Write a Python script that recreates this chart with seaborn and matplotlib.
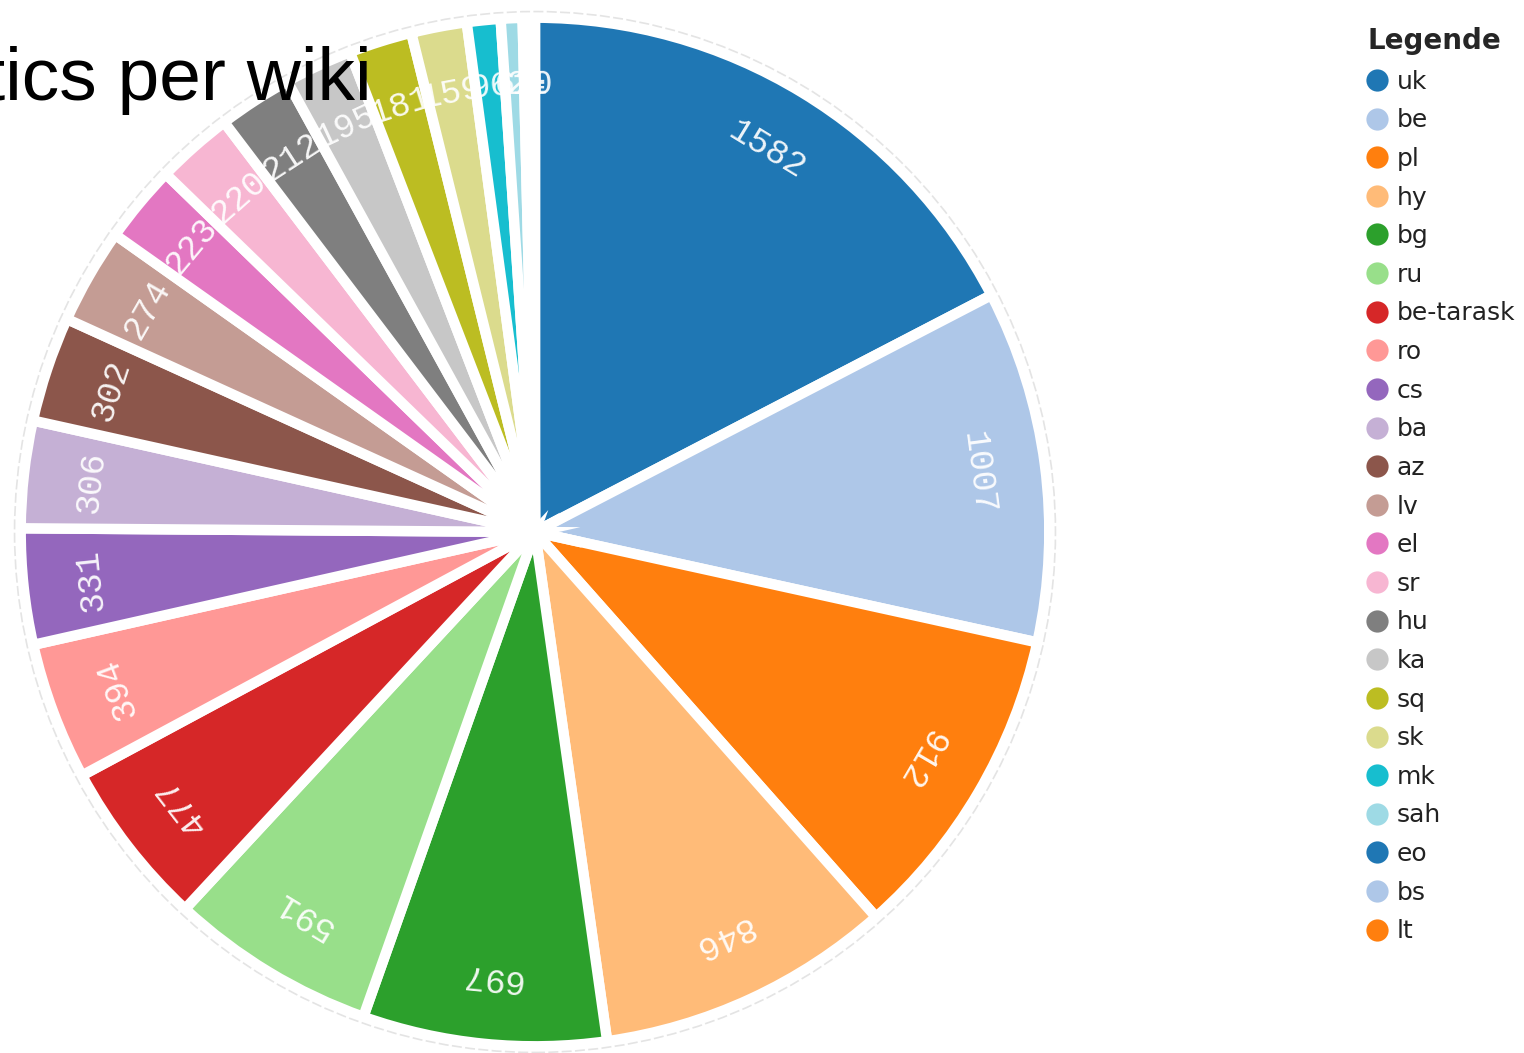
import matplotlib
matplotlib.use('Agg')
import matplotlib.pyplot as plt
from matplotlib.lines import Line2D
from matplotlib.patches import Circle
import numpy as np
import seaborn as sns

sns.set_style('white')
plt.rcParams['font.family'] = ['DejaVu Sans']

# 위키별 값 (그림에서 읽은 값, 작은 조각은 추정)
wikis = ['uk', 'be', 'pl', 'hy', 'bg', 'ru', 'be-tarask', 'ro', 'cs', 'ba',
         'az', 'lv', 'el', 'sr', 'hu', 'ka', 'sq', 'sk', 'mk', 'sah',
         'eo', 'bs', 'lt']
counts = [1582, 1007, 912, 846, 697, 591, 477, 394, 331, 306,
          302, 274, 223, 220, 212, 195, 181, 159, 96, 62,
          21, 10, 4]
title_text = 'Statistics per wiki'
legend_title = 'Legende'

colors = sns.color_palette('tab20', 20)
colors = [colors[i % 20] for i in range(len(wikis))]

W, H = 1524, 1053
fig = plt.figure(figsize=(W / 100, H / 100), dpi=100)

# 파이 영역 (중심 535, 532 px)
cx, cy, half = 535, 532, 522
lim = 1.015
ax = fig.add_axes([(cx - half) / W, (H - cy - half) / H, 2 * half / W, 2 * half / H])

wedges, _ = ax.pie(counts, colors=colors, startangle=90, counterclock=False,
                   radius=1.0,
                   wedgeprops=dict(edgecolor='white', linewidth=7.5))
ax.add_patch(Circle((0, 0), 1.012, fill=False, edgecolor='#e4e4e4',
                    linewidth=1.2, linestyle=(0, (6, 2))))
ax.set_xlim(-lim, lim)
ax.set_ylim(-lim, lim)
ax.set_aspect('equal')
ax.axis('off')

# 조각별 값 라벨 (원주 방향으로 회전)
for w, v in zip(wedges, counts):
    mid = (w.theta1 + w.theta2) / 2
    x = 0.87 * np.cos(np.radians(mid))
    y = 0.87 * np.sin(np.radians(mid))
    ax.text(x, y, str(v), rotation=mid - 90, rotation_mode='anchor',
            ha='center', va='center', color='white', alpha=0.92,
            fontsize=25, family='Liberation Mono')

# 제목 (왼쪽이 잘린 채로)
fig.text(372 / W, 1 - 100 / H, title_text, ha='right', va='baseline',
         fontsize=54, family='Liberation Sans', color='black')

# 범례
handles = [Line2D([], [], marker='o', linestyle='', markersize=16,
                  markerfacecolor=c, markeredgecolor='none') for c in colors]
leg = fig.legend(handles, wikis, loc='upper left',
                 bbox_to_anchor=(1368 / W, 1 - 27 / H), frameon=False,
                 title=legend_title, alignment='left', fontsize=18,
                 handlelength=0.75, handletextpad=0.4, labelspacing=0.585,
                 borderaxespad=0, borderpad=0)
leg.get_title().set_fontweight('bold')
leg.get_title().set_fontsize(20)
for t in leg.get_texts():
    t.set_color('#222222')

fig.savefig('out.png', dpi=100)
